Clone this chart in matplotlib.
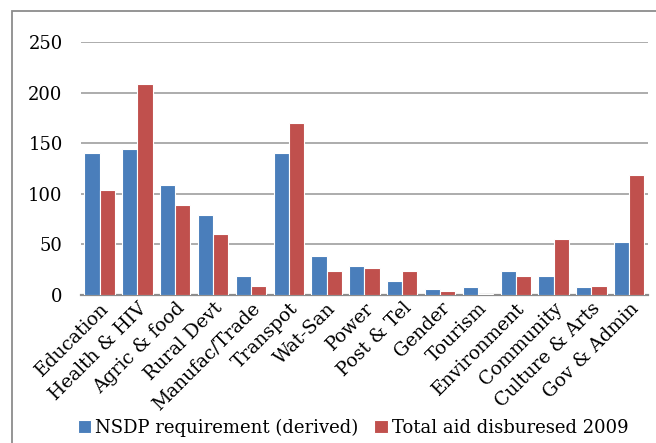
import matplotlib
matplotlib.use("Agg")
import matplotlib.pyplot as plt
import numpy as np
from matplotlib.patches import Rectangle

sectors = ["Education", "Health & HIV", "Agric & food", "Rural Devt",
           "Manufac/Trade", "Transpot", "Wat-San", "Power", "Post & Tel",
           "Gender", "Tourism", "Environment", "Community", "Culture & Arts",
           "Gov & Admin"]
nsdp = [140, 144, 109, 79, 19, 140, 39, 29, 14, 6, 8, 24, 19, 8, 52]
aid_2009 = [104, 209, 89, 60, 9, 170, 24, 27, 24, 4, 1.5, 19, 55, 9, 119]
yticks = [0, 50, 100, 150, 200, 250]

plt.rcParams["font.family"] = ["DejaVu Serif"]

fig = plt.figure(figsize=(6.56, 4.43), dpi=100)
ax = fig.add_axes([0.123, 0.334, 0.865, 0.571])

# chart frame (runs off the right and bottom edges)
fig.patches.append(Rectangle((11.5 / 656, -0.1), 1.2, 1.1 - 11.5 / 443,
                             transform=fig.transFigure, fill=False,
                             edgecolor="#8c8c8c", linewidth=1.3))

x = np.arange(len(sectors))
w = 0.4
ax.bar(x - w / 2, nsdp, w, color="#4a7ebb", edgecolor="white", linewidth=0.8,
       label="NSDP requirement (derived)", zorder=3)
ax.bar(x + w / 2, aid_2009, w, color="#c0504d", edgecolor="white", linewidth=0.8,
       label="Total aid disburesed 2009", zorder=3)

ax.set_xlim(-0.5, len(sectors) - 0.5)
ax.set_ylim(0, 250)
ax.set_yticks(yticks)
ax.yaxis.grid(True, color="#a6a6a6", linewidth=1.3, zorder=0)
ax.set_axisbelow(True)
for s in ["top", "right", "left"]:
    ax.spines[s].set_visible(False)
ax.spines["bottom"].set_color("#8c8c8c")
ax.spines["bottom"].set_linewidth(1.6)
ax.tick_params(axis="y", length=0, labelsize=13, pad=13)
ax.tick_params(axis="x", length=0, labelsize=13.5, pad=3)
ax.set_xticks(x)
ax.set_xticklabels(sectors, rotation=45, ha="right", rotation_mode="anchor")

ax.legend(loc="center", bbox_to_anchor=(0.48, -0.525), ncol=2,
          frameon=False, fontsize=13, handlelength=0.75, handleheight=0.75,
          handletextpad=0.2, columnspacing=0.9)

fig.savefig("out.png", dpi=100)
